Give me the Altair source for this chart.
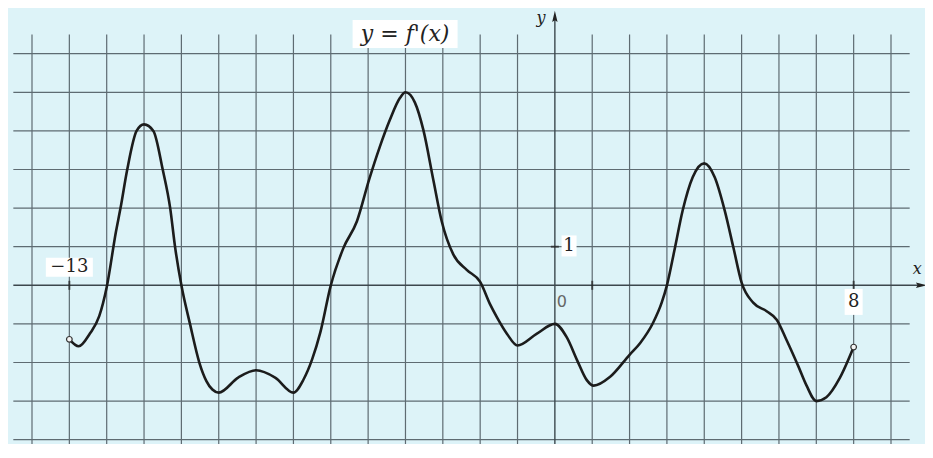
import altair as alt
import pandas as pd

# ---- data ----
curve_x = [-13.0, -12.75, -12.45, -12.2, -12.0, -11.75, -11.63, -11.45, -11.2, -11.0,
           -10.75, -10.5, -10.3, -10.17, -10.0, -9.77, -9.52, -9.33, -9.17, -9.0,
           -8.48, -8.0, -7.49, -7.0, -6.73, -6.5, -6.28, -6.0, -5.66, -5.3, -4.97,
           -4.69, -4.42, -4.15, -4.0, -3.75, -3.52, -3.25, -3.03, -2.72, -2.36, -2.0,
           -1.73, -1.55, -1.28, -1.0, -0.49, 0.0, 0.32, 0.6, 0.85, 1.04, 1.48, 2.0,
           2.28, 2.63, 2.86, 3.0, 3.2, 3.42, 3.69, 4.0, 4.28, 4.55, 4.78, 5.0, 5.31,
           5.67, 5.94, 6.2, 6.52, 6.74, 7.0, 7.27, 7.63, 8.0]
curve_y = [-1.4, -1.58, -1.25, -0.8, -0.05, 1.4, 2.0, 3.0, 4.0, 4.17,
           4.0, 3.0, 2.0, 1.0, 0.0, -1.0, -2.0, -2.48, -2.7, -2.78,
           -2.39, -2.2, -2.39, -2.78, -2.44, -1.92, -1.22, 0.0, 0.97, 1.66, 2.75,
           3.58, 4.28, 4.85, 5.0, 4.74, 4.02, 2.71, 1.66, 0.8, 0.4, 0.09,
           -0.5, -0.83, -1.26, -1.56, -1.26, -1.0, -1.35, -1.95, -2.45, -2.6, -2.37, -1.8,
           -1.5, -0.97, -0.45, 0.0, 0.9, 1.93, 2.8, 3.16, 2.8, 1.93, 0.98, 0.07, -0.45,
           -0.67, -0.89, -1.41, -2.1, -2.6, -3.0, -2.9, -2.4, -1.6]
end_x = [-13.0, 8.0]
end_y = [-1.4, -1.6]

grid_x = list(range(-14, 10))
grid_y = list(range(-4, 7))
grid_x_span = [-14.5, 9.5]
grid_y_span = [-4.5, 6.5]

tick_v_x = [-13, 1, 8]      # ticks on the x axis
tick_h_y = [1]              # tick on the y axis

num_text = ["−13", "8", "1"]
num_x = [-13.0, 8.0, 0.38]
num_y = [0.47, -0.43, 1.02]

# ---- scales ----
W, H = 917, 436
X_DOMAIN = [-14.6426, 9.9104]
Y_DOMAIN = [-4.111, 7.184]
xs = alt.Scale(domain=X_DOMAIN, nice=False, zero=False)
ys = alt.Scale(domain=Y_DOMAIN, nice=False, zero=False)

BG = "#ddf3f8"
GRID = "#5e6b72"
INK = "#1c1c1c"


def X(f):
    return alt.X(f, type="quantitative", scale=xs, axis=None)


def Y(f):
    return alt.Y(f, type="quantitative", scale=ys, axis=None)


vgrid = pd.DataFrame({"gx": [g for g in grid_x if g != 0],
                      "y0": grid_y_span[0], "y1": grid_y_span[1]})
hgrid = pd.DataFrame({"gy": [g for g in grid_y if g != 0],
                      "x0": grid_x_span[0], "x1": grid_x_span[1]})

vlines = alt.Chart(vgrid).mark_rule(color=GRID, strokeWidth=1.2, clip=True).encode(
    x=X("gx"), y=Y("y0"), y2="y1")
hlines = alt.Chart(hgrid).mark_rule(color=GRID, strokeWidth=1.2, clip=True).encode(
    y=Y("gy"), x=X("x0"), x2="x1")

axes_df = pd.DataFrame({"ax": [0.0], "ay0": [grid_y_span[0]], "ay1": [7.0],
                        "bx0": [grid_x_span[0]], "bx1": [9.8], "by": [0.0]})
yaxis = alt.Chart(axes_df).mark_rule(color="#3c474d", strokeWidth=1.4, clip=True).encode(
    x=X("ax"), y=Y("ay0"), y2="ay1")
xaxis = alt.Chart(axes_df).mark_rule(color="#3c474d", strokeWidth=1.4, clip=True).encode(
    y=Y("by"), x=X("bx0"), x2="bx1")

arrow_up = alt.Chart(pd.DataFrame({"x": [0.0], "y": [6.93]})).mark_point(
    shape="M0,-1L0.38,0.6L0,0.35L-0.38,0.6Z", size=200, filled=True, color="#222", opacity=1
).encode(x=X("x"), y=Y("y"))
arrow_right = alt.Chart(pd.DataFrame({"x": [9.78], "y": [0.0]})).mark_point(
    shape="M1,0L-0.6,0.38L-0.35,0L-0.6,-0.38Z", size=200, filled=True, color="#222", opacity=1
).encode(x=X("x"), y=Y("y"))

ticks_v = alt.Chart(pd.DataFrame({"x": tick_v_x, "y": [0.0] * len(tick_v_x)})).mark_tick(
    orient="vertical", size=9, thickness=2, color="#222").encode(x=X("x"), y=Y("y"))
ticks_h = alt.Chart(pd.DataFrame({"x": [0.0] * len(tick_h_y), "y": tick_h_y})).mark_tick(
    orient="horizontal", size=8, thickness=2, color="#222").encode(x=X("x"), y=Y("y"))

curve = alt.Chart(pd.DataFrame({"x": curve_x, "y": curve_y})).mark_line(
    color=INK, strokeWidth=2.6, interpolate="monotone").encode(x=X("x"), y=Y("y"))

ends = alt.Chart(pd.DataFrame({"x": end_x, "y": end_y})).mark_point(
    shape="circle", size=32, filled=True, fill="#f4f4f4", stroke="#333", strokeWidth=1.2,
    opacity=1).encode(x=X("x"), y=Y("y"))

nums = pd.DataFrame({"t": num_text, "x": num_x, "y": num_y})


def box(x, y, w, h):
    r = h / w
    path = f"M-1,-{r:.4f}H1V{r:.4f}H-1Z"
    return alt.Chart(pd.DataFrame({"x": [x], "y": [y]})).mark_point(
        shape=path, size=w * w, filled=True, color="white", opacity=1
    ).encode(x=X("x"), y=Y("y"))


boxes = [box(num_x[0], num_y[0], 47, 19), box(num_x[1], num_y[1], 18, 26),
         box(num_x[2], num_y[2], 15, 21)]

num_text_layer = alt.Chart(nums).mark_text(
    font="DejaVu Serif", fontSize=18, color="#222", baseline="middle", align="center"
).encode(x=X("x"), y=Y("y"), text="t:N")

fx_label_x, fx_label_y = -4.01, 6.51
fx_box = box(fx_label_x, fx_label_y, 105, 28)
fx_text = alt.Chart(pd.DataFrame({"x": [fx_label_x], "y": [fx_label_y], "t": ["y = f'(x)"]})).mark_text(
    font="DejaVu Serif", fontStyle="italic", fontSize=22, color="#222", baseline="middle", align="center"
).encode(x=X("x"), y=Y("y"), text="t:N")

axis_names = alt.Chart(pd.DataFrame({"x": [-0.37, 9.7], "y": [6.93, 0.42], "t": ["y", "x"]})).mark_text(
    font="DejaVu Serif", fontStyle="italic", fontSize=16, color="#222", baseline="middle", align="center"
).encode(x=X("x"), y=Y("y"), text="t:N")

zero_label = alt.Chart(pd.DataFrame({"x": [0.19], "y": [-0.43], "t": ["0"]})).mark_text(
    font="DejaVu Sans", fontSize=16, color="#666", baseline="middle", align="center"
).encode(x=X("x"), y=Y("y"), text="t:N")

chart = alt.layer(
    vlines, hlines, yaxis, xaxis, arrow_up, arrow_right, ticks_v, ticks_h,
    curve, ends, *boxes, num_text_layer, fx_box, fx_text, axis_names, zero_label
).properties(
    width=W, height=H, padding=0, autosize=alt.AutoSizeParams(type="none"), background=BG
).configure_view(strokeWidth=0, fill=BG)

chart.save("out.html", embed_options={"renderer": "svg", "actions": False})
